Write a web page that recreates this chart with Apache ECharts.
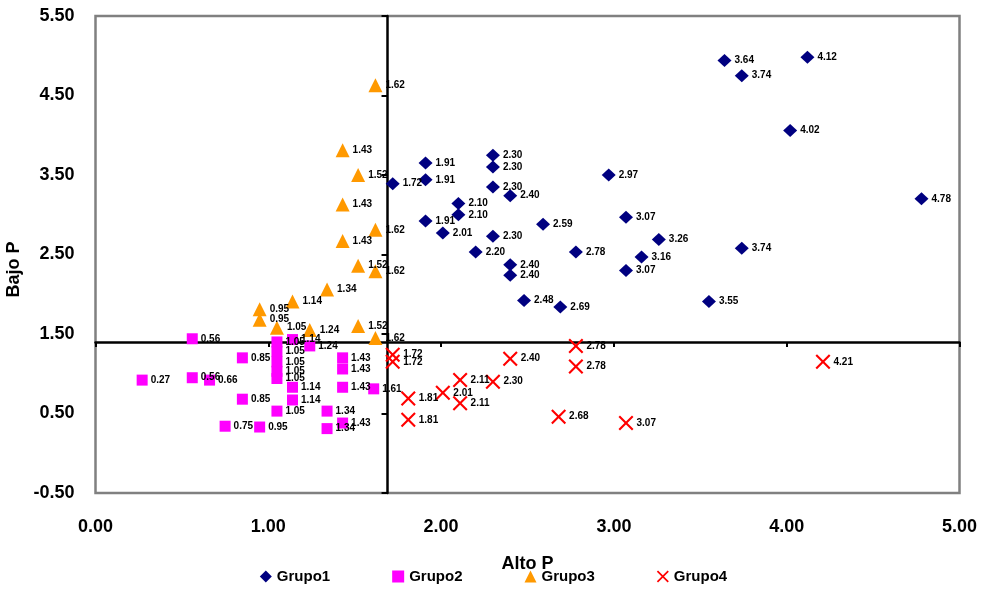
<!DOCTYPE html>
<html>
<head>
<meta charset="utf-8">
<script src="https://cdn.jsdelivr.net/npm/echarts@6/dist/echarts.min.js"></script>
<style>html,body{margin:0;padding:0;background:#fff}#c{width:987px;height:592px}</style>
</head>
<body>
<div id="c"></div>
<script>
const seriesNames = ['Grupo1', 'Grupo2', 'Grupo3', 'Grupo4'];
const xTicks = [0, 1, 2, 3, 4, 5];
const yTicks = [-0.5, 0.5, 1.5, 2.5, 3.5, 4.5, 5.5];
const crossX = 1.69;
const crossY = 1.40;

const grupo1 = [
  [3.64, 4.94], [3.74, 4.75], [4.12, 4.98], [4.02, 4.06], [4.78, 3.20], [2.97, 3.50],
  [3.07, 2.97], [3.26, 2.69], [3.16, 2.47], [3.07, 2.30], [3.74, 2.58], [3.55, 1.91],
  [1.91, 3.65], [1.91, 3.44], [1.72, 3.39], [2.30, 3.75], [2.30, 3.60], [2.30, 3.35],
  [2.40, 3.24], [2.10, 3.14], [2.10, 3.00], [1.91, 2.92], [2.01, 2.77], [2.30, 2.73],
  [2.59, 2.88], [2.20, 2.53], [2.40, 2.37], [2.40, 2.24], [2.78, 2.53], [2.48, 1.92],
  [2.69, 1.84]
];
const grupo2 = [
  [0.56, 1.44], [0.85, 1.20], [0.27, 0.92], [0.56, 0.95], [0.66, 0.92], [0.85, 0.68],
  [0.75, 0.34], [0.95, 0.33], [1.05, 1.40], [1.05, 1.28], [1.05, 1.15], [1.05, 1.03],
  [1.05, 0.94], [1.14, 1.43], [1.14, 0.83], [1.14, 0.67], [1.24, 1.35], [1.43, 1.20],
  [1.43, 1.06], [1.43, 0.83], [1.61, 0.81], [1.05, 0.53], [1.34, 0.53], [1.34, 0.31],
  [1.43, 0.38]
];
const grupo3 = [
  [1.62, 4.63], [1.43, 3.81], [1.52, 3.50], [1.43, 3.13], [1.62, 2.81], [1.43, 2.67],
  [1.52, 2.36], [1.62, 2.29], [1.34, 2.06], [1.14, 1.91], [0.95, 1.81], [0.95, 1.68],
  [1.05, 1.58], [1.24, 1.55], [1.52, 1.60], [1.62, 1.45]
];
const grupo4 = [
  [1.72, 1.24], [1.72, 1.15], [2.40, 1.19], [2.78, 1.35], [2.78, 1.09], [2.11, 0.92],
  [2.30, 0.90], [2.01, 0.76], [1.81, 0.69], [2.11, 0.63], [1.81, 0.42], [2.68, 0.46],
  [3.07, 0.38], [4.21, 1.15]
];

const xMark = 'path://M0,1L1,0L5,4L9,0L10,1L6,5L10,9L9,10L5,6L1,10L0,9L4,5Z';
const labelCfg = {
  show: true, position: 'right', distance: 3, color: '#000',
  fontFamily: 'Liberation Sans, Arial, sans-serif', fontWeight: 'bold', fontSize: 10,
  formatter: p => p.value[0].toFixed(2)
};
function mk(name, data, symbol, size, color) {
  return {
    name, type: 'scatter', data, symbol, symbolSize: size,
    xAxisIndex: 0, yAxisIndex: 0,
    itemStyle: { color, opacity: 1 },
    label: labelCfg, emphasis: { disabled: true }
  };
}
const bold = { color: '#000', fontFamily: 'Liberation Sans, Arial, sans-serif', fontWeight: 'bold', fontSize: 18 };
const xMin = xTicks[0], xMax = xTicks[xTicks.length - 1];
const yMin = yTicks[0], yMax = yTicks[yTicks.length - 1];

const chart = echarts.init(document.getElementById('c'));
chart.setOption({
  animation: false,
  backgroundColor: '#fff',
  grid: { left: 95.5, right: 27.5, top: 16, bottom: 99, show: true, borderColor: '#808080', borderWidth: 2.5,
          containLabel: false, outerBoundsMode: 'none' },
  xAxis: [
    { type: 'value', min: xMin, max: xMax, interval: 1, position: 'bottom',
      name: 'Alto P', nameLocation: 'middle', nameGap: 62, nameTextStyle: bold,
      axisLine: { show: false }, axisTick: { show: false }, splitLine: { show: false },
      axisLabel: Object.assign({ margin: 25, formatter: v => v.toFixed(2) }, bold) },
    { type: 'value', min: xMin, max: xMax, interval: 1, position: 'bottom',
      axisLine: { show: true, onZero: true, onZeroAxisIndex: 1, lineStyle: { color: '#000', width: 2.5 } },
      axisTick: { show: true, length: 5, lineStyle: { color: '#000', width: 2 } },
      axisLabel: { show: false }, splitLine: { show: false } },
    { type: 'value', min: xMin - crossX, max: xMax - crossX, show: false, splitLine: { show: false } }
  ],
  yAxis: [
    { type: 'value', min: yMin, max: yMax, interval: 1, position: 'left',
      name: 'Bajo P', nameLocation: 'middle', nameGap: 60, nameTextStyle: Object.assign({ padding: [0, 30, 0, 0] }, bold),
      axisLine: { show: false }, axisTick: { show: false }, splitLine: { show: false },
      axisLabel: Object.assign({ margin: 21, formatter: v => v.toFixed(2) }, bold) },
    { type: 'value', min: yMin - crossY, max: yMax - crossY, show: false, splitLine: { show: false } },
    { type: 'value', min: yMin, max: yMax, interval: 1, position: 'left',
      axisLine: { show: true, onZero: true, onZeroAxisIndex: 2, lineStyle: { color: '#000', width: 2.5 } },
      axisTick: { show: true, length: 6, lineStyle: { color: '#000', width: 2 } },
      axisLabel: { show: false }, splitLine: { show: false } }
  ],
  legend: {
    bottom: 3, left: 'center', itemGap: 62, itemWidth: 12, itemHeight: 12,
    textStyle: { color: '#000', fontFamily: 'Liberation Sans, Arial, sans-serif', fontSize: 15, fontWeight: 'bold' },
    data: seriesNames
  },
  series: [
    mk(seriesNames[0], grupo1, 'diamond', [14, 13], '#000080'),
    mk(seriesNames[1], grupo2, 'rect', 11, '#FF00FF'),
    mk(seriesNames[2], grupo3, 'triangle', [14, 14], '#FF9900'),
    mk(seriesNames[3], grupo4, xMark, 15, '#FF0000')
  ]
});
</script>
</body>
</html>
